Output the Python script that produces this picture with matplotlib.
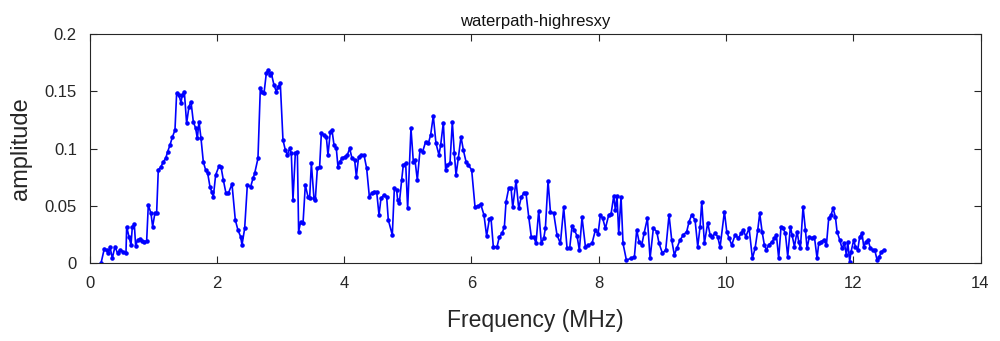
import numpy as np
from matplotlib import pyplot as plt

## frecuencias (MHz) y amplitudes
freq = [0.180, 0.233, 0.269, 0.296, 0.322, 0.358, 0.400, 0.442, 0.479, 0.531,
        0.573, 0.584, 0.620, 0.652, 0.673, 0.704, 0.725, 0.757, 0.793, 0.819,
        0.861, 0.898, 0.924, 0.966, 0.992, 1.029, 1.055, 1.081, 1.118, 1.160,
        1.197, 1.228, 1.265, 1.301, 1.343, 1.369, 1.406, 1.437, 1.458, 1.490,
        1.526, 1.563, 1.595, 1.631, 1.668, 1.694, 1.720, 1.752, 1.788, 1.825,
        1.857, 1.893, 1.919, 1.946, 1.982, 2.035, 2.066, 2.103, 2.145, 2.181,
        2.239, 2.291, 2.333, 2.375, 2.396, 2.438, 2.480, 2.532, 2.569, 2.595,
        2.647, 2.684, 2.716, 2.742, 2.778, 2.805, 2.831, 2.857, 2.899, 2.936,
        2.962, 2.998, 3.040, 3.077, 3.108, 3.145, 3.171, 3.197, 3.234, 3.266,
        3.286, 3.318, 3.355, 3.391, 3.433, 3.459, 3.486, 3.527, 3.548, 3.580,
        3.616, 3.643, 3.685, 3.721, 3.747, 3.784, 3.810, 3.842, 3.878, 3.904,
        3.931, 3.967, 4.009, 4.051, 4.088, 4.125, 4.166, 4.193, 4.229, 4.271,
        4.313, 4.355, 4.397, 4.433, 4.470, 4.512, 4.549, 4.580, 4.627, 4.669,
        4.695, 4.758, 4.790, 4.826, 4.842, 4.868, 4.905, 4.931, 4.968, 4.999,
        5.051, 5.088, 5.114, 5.151, 5.193, 5.235, 5.282, 5.324, 5.360, 5.402,
        5.444, 5.491, 5.518, 5.560, 5.596, 5.622, 5.664, 5.701, 5.732, 5.759,
        5.795, 5.837, 5.874, 5.916, 5.952, 6.005, 6.057, 6.110, 6.146, 6.198,
        6.240, 6.282, 6.309, 6.345, 6.404, 6.440, 6.482, 6.519, 6.545, 6.587,
        6.624, 6.650, 6.702, 6.744, 6.786, 6.833, 6.859, 6.901, 6.943, 6.980,
        7.016, 7.058, 7.100, 7.137, 7.163, 7.205, 7.242, 7.294, 7.346, 7.399,
        7.451, 7.504, 7.545, 7.582, 7.619, 7.661, 7.697, 7.739, 7.792, 7.833,
        7.896, 7.949, 7.991, 8.027, 8.064, 8.106, 8.158, 8.195, 8.237, 8.263,
        8.289, 8.315, 8.352, 8.383, 8.436, 8.509, 8.562, 8.598, 8.635, 8.677,
        8.714, 8.766, 8.808, 8.860, 8.913, 8.949, 9.002, 9.054, 9.106, 9.148,
        9.190, 9.227, 9.279, 9.332, 9.384, 9.421, 9.462, 9.515, 9.557, 9.594,
        9.620, 9.662, 9.714, 9.751, 9.788, 9.829, 9.871, 9.908, 9.976, 10.013,
        10.049, 10.091, 10.144, 10.196, 10.238, 10.274, 10.312, 10.364, 10.416, 10.458,
        10.500, 10.531, 10.568, 10.604, 10.636, 10.672, 10.725, 10.761, 10.793, 10.829,
        10.866, 10.898, 10.934, 10.971, 11.013, 11.039, 11.076, 11.118, 11.144, 11.170,
        11.212, 11.249, 11.275, 11.311, 11.353, 11.390, 11.432, 11.458, 11.495, 11.537,
        11.579, 11.615, 11.652, 11.683, 11.720, 11.746, 11.788, 11.825, 11.861, 11.893,
        11.914, 11.945, 11.966, 12.008, 12.034, 12.071, 12.102, 12.139, 12.165, 12.202,
        12.233, 12.270, 12.307, 12.338, 12.375, 12.411, 12.443, 12.479]

amplitud = [0.0000, 0.0130, 0.0118, 0.0088, 0.0147, 0.0045, 0.0147, 0.0088, 0.0118, 0.0103,
            0.0088, 0.0321, 0.0234, 0.0161, 0.0321, 0.0344, 0.0155, 0.0205, 0.0210, 0.0196,
            0.0190, 0.0196, 0.0510, 0.0437, 0.0321, 0.0443, 0.0443, 0.0815, 0.0838, 0.0887,
            0.0916, 0.0974, 0.1033, 0.1099, 0.1163, 0.1483, 0.1468, 0.1401, 0.1468, 0.1497,
            0.1221, 0.1367, 0.1410, 0.1236, 0.1178, 0.1091, 0.1236, 0.1091, 0.0887, 0.0815,
            0.0786, 0.0669, 0.0626, 0.0582, 0.0771, 0.0849, 0.0844, 0.0727, 0.0611, 0.0611,
            0.0692, 0.0379, 0.0291, 0.0233, 0.0161, 0.0306, 0.0684, 0.0669, 0.0742, 0.0785,
            0.0916, 0.1526, 0.1497, 0.1483, 0.1657, 0.1686, 0.1642, 0.1657, 0.1555, 0.1497,
            0.1541, 0.1570, 0.1076, 0.0989, 0.0945, 0.1003, 0.0960, 0.0553, 0.0960, 0.0974,
            0.0277, 0.0364, 0.0350, 0.0684, 0.0582, 0.0567, 0.0872, 0.0567, 0.0553, 0.0829,
            0.0843, 0.1134, 0.1119, 0.1105, 0.0945, 0.1148, 0.1163, 0.1032, 0.1003, 0.0843,
            0.0887, 0.0916, 0.0931, 0.0945, 0.1003, 0.0916, 0.0902, 0.0756, 0.0931, 0.0945,
            0.0946, 0.0829, 0.0583, 0.0612, 0.0626, 0.0626, 0.0423, 0.0568, 0.0597, 0.0583,
            0.0379, 0.0249, 0.0655, 0.0641, 0.0554, 0.0525, 0.0728, 0.0859, 0.0873, 0.0481,
            0.1178, 0.0888, 0.0902, 0.0728, 0.0989, 0.0975, 0.1062, 0.1047, 0.1120, 0.1286,
            0.1047, 0.0946, 0.1033, 0.1227, 0.0815, 0.0859, 0.0873, 0.1236, 0.0960, 0.0771,
            0.0917, 0.1105, 0.0989, 0.0888, 0.0859, 0.0815, 0.0495, 0.0501, 0.0519, 0.0423,
            0.0240, 0.0385, 0.0394, 0.0147, 0.0146, 0.0233, 0.0262, 0.0321, 0.0538, 0.0655,
            0.0655, 0.0489, 0.0721, 0.0480, 0.0582, 0.0617, 0.0611, 0.0408, 0.0228, 0.0233,
            0.0175, 0.0460, 0.0175, 0.0219, 0.0306, 0.0721, 0.0451, 0.0437, 0.0248, 0.0175,
            0.0489, 0.0132, 0.0132, 0.0326, 0.0292, 0.0239, 0.0117, 0.0402, 0.0146, 0.0161,
            0.0175, 0.0292, 0.0257, 0.0422, 0.0393, 0.0306, 0.0422, 0.0431, 0.0588, 0.0466,
            0.0588, 0.0262, 0.0582, 0.0175, 0.0030, 0.0045, 0.0060, 0.0292, 0.0190, 0.0161,
            0.0263, 0.0394, 0.0045, 0.0307, 0.0278, 0.0176, 0.0089, 0.0118, 0.0423, 0.0205,
            0.0074, 0.0132, 0.0205, 0.0249, 0.0278, 0.0365, 0.0423, 0.0379, 0.0147, 0.0321,
            0.0539, 0.0176, 0.0356, 0.0249, 0.0234, 0.0263, 0.0234, 0.0141, 0.0452, 0.0278,
            0.0220, 0.0161, 0.0249, 0.0220, 0.0263, 0.0292, 0.0234, 0.0307, 0.0045, 0.0132,
            0.0292, 0.0437, 0.0278, 0.0161, 0.0118, 0.0161, 0.0190, 0.0220, 0.0249, 0.0045,
            0.0321, 0.0307, 0.0263, 0.0060, 0.0321, 0.0249, 0.0147, 0.0278, 0.0190, 0.0132,
            0.0496, 0.0292, 0.0132, 0.0234, 0.0220, 0.0234, 0.0045, 0.0176, 0.0190, 0.0205,
            0.0161, 0.0394, 0.0423, 0.0481, 0.0408, 0.0278, 0.0205, 0.0132, 0.0176, 0.0074,
            0.0190, 0.0016, 0.0103, 0.0205, 0.0147, 0.0118, 0.0234, 0.0263, 0.0147, 0.0190,
            0.0205, 0.0132, 0.0118, 0.0118, 0.0031, 0.0060, 0.0103, 0.0118]

xticks = [0, 2, 4, 6, 8, 10, 12, 14]
yticks = [0, 0.05, 0.1, 0.15, 0.2]
ytick_labels = ['0', '0.05', '0.1', '0.15', '0.2']

plt.rcParams['font.family'] = ['Liberation Sans', 'DejaVu Sans']
gris = '#262626'

fig = plt.figure(figsize=(10, 3.41), dpi=100)
ax = fig.add_axes([0.0895, 0.2273, 0.891, 0.673])

ax.plot(freq, amplitud, color='#0000ff', lw=1.2, marker='.', ms=4.5)

ax.set_xlim(0, 14)
ax.set_ylim(0, 0.2)
ax.set_xticks(xticks)
ax.set_yticks(yticks)
ax.set_yticklabels(ytick_labels)
ax.tick_params(direction='in', top=True, right=True, length=5, width=0.8,
               colors=gris, labelsize=12, pad=9)
for s in ax.spines.values():
    s.set_color(gris)
    s.set_linewidth(0.8)

ax.set_xlabel('Frequency (MHz)', fontsize=16.5, color=gris, labelpad=13)
ax.set_ylabel('amplitude', fontsize=17, color=gris, labelpad=9)
ax.set_title('waterpath-highresxy', fontsize=12, color='#111111', pad=6)

fig.savefig('out.png', dpi=100)
